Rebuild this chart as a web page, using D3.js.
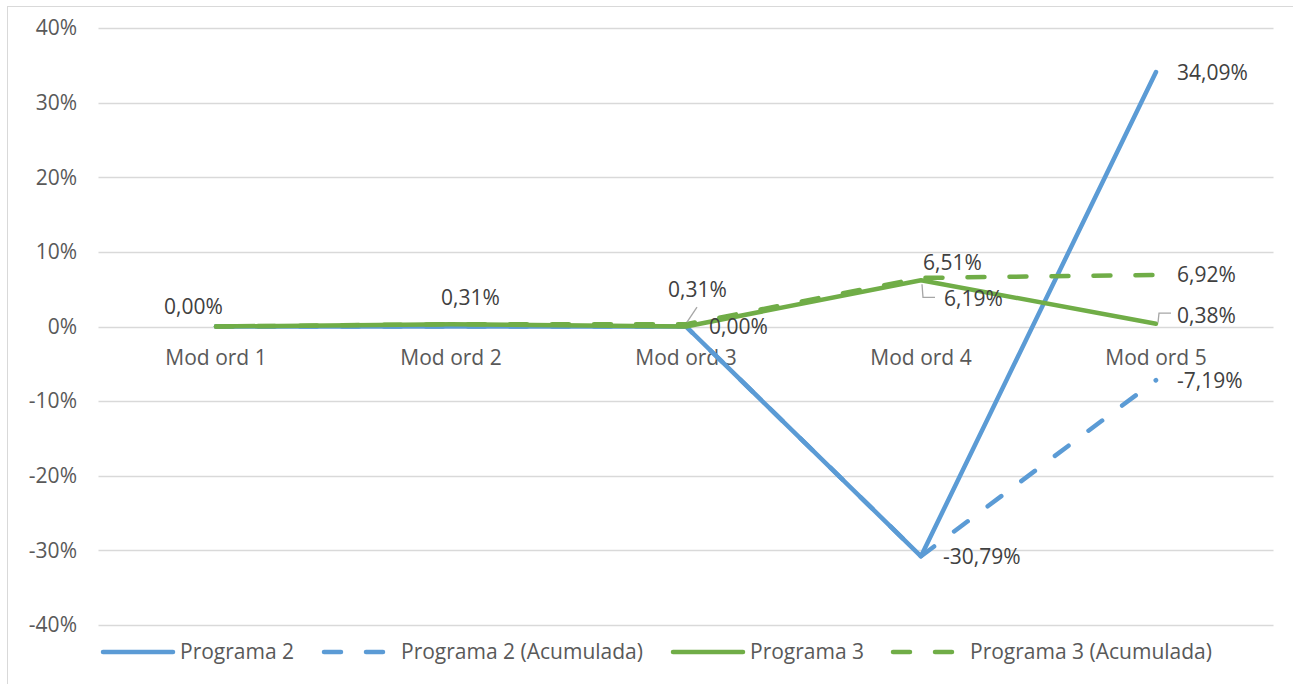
<!DOCTYPE html>
<html>
<head>
<meta charset="utf-8">
<script src="https://cdn.jsdelivr.net/npm/d3@7"></script>
<style>
  body { margin: 0; background: #fff; }
  svg { display: block; font-family: "Open Sans", sans-serif; }
</style>
</head>
<body>
<script>
// chart data
const categories = ['Mod ord 1', 'Mod ord 2', 'Mod ord 3', 'Mod ord 4', 'Mod ord 5'];
const programa2 = [0, 0, 0, -30.79, 34.09];
const programa2Acum = [0, 0, 0, -30.79, -7.19];
const programa3 = [0, 0.31, 0, 6.19, 0.38];
const programa3Acum = [0, 0.31, 0.31, 6.51, 6.92];
const yTicks = [40, 30, 20, 10, 0, -10, -20, -30, -40];

const series = [
  { name: 'Programa 2', values: programa2, color: '#5B9BD5', dashed: false },
  { name: 'Programa 2 (Acumulada)', values: programa2Acum, color: '#5B9BD5', dashed: true },
  { name: 'Programa 3', values: programa3, color: '#70AD47', dashed: false },
  { name: 'Programa 3 (Acumulada)', values: programa3Acum, color: '#70AD47', dashed: true }
];

// which data labels are shown and where (s = series index, i = category index)
const labelPlaces = [
  { s: 3, i: 0, dx: -52, dy: -20 },
  { s: 3, i: 1, dx: -10, dy: -27 },
  { s: 3, i: 2, dx: -18, dy: -35, leader: true },
  { s: 2, i: 2, dx: 23, dy: 0 },
  { s: 3, i: 3, dx: 2, dy: -15 },
  { s: 2, i: 3, dx: 23, dy: 18, leader: true },
  { s: 0, i: 3, dx: 22, dy: 0 },
  { s: 0, i: 4, dx: 21, dy: 1 },
  { s: 3, i: 4, dx: 21, dy: 0 },
  { s: 2, i: 4, dx: 21, dy: -8, leader: true },
  { s: 1, i: 4, dx: 21, dy: 0 }
];

const width = 1293;
const height = 684;
const fontSize = '21px';

const svg = d3.select('body').append('svg').attr('width', width).attr('height', height);

// chart border
svg.append('rect')
  .attr('x', 7.5).attr('y', 6.5)
  .attr('width', width + 20).attr('height', height + 20)
  .attr('fill', 'none').attr('stroke', '#d9d9d9');

const x = d3.scaleBand().domain(categories).range([98.5, 1273.5]);
const y = d3.scaleLinear().domain([-40, 40]).range([625, 28]);
const px = (i) => x(categories[i]) + x.bandwidth() / 2;

// gridlines
svg.append('g')
  .selectAll('line')
  .data(yTicks)
  .join('line')
  .attr('x1', 98.5).attr('x2', 1273.5)
  .attr('y1', (d) => Math.round(y(d)) + 0.5)
  .attr('y2', (d) => Math.round(y(d)) + 0.5)
  .attr('stroke', '#d9d9d9').attr('stroke-width', 1.3);

// y axis labels
svg.append('g')
  .selectAll('text')
  .data(yTicks)
  .join('text')
  .attr('x', 77)
  .attr('y', (d) => y(d))
  .attr('dy', '0.35em')
  .attr('text-anchor', 'end')
  .attr('fill', '#595959')
  .style('font-size', fontSize)
  .text((d) => d + '%');

// category labels (axis sits at zero)
svg.append('g')
  .selectAll('text')
  .data(categories)
  .join('text')
  .attr('x', (d) => x(d) + x.bandwidth() / 2)
  .attr('y', y(0) + 31)
  .attr('dy', '0.35em')
  .attr('text-anchor', 'middle')
  .attr('fill', '#595959')
  .style('font-size', fontSize)
  .text((d) => d);

// lines
const line = d3.line().x((d, i) => px(i)).y((d) => y(d));
const gLines = svg.append('g');
series.forEach((s) => {
  gLines.append('path')
    .attr('d', line(s.values))
    .attr('fill', 'none')
    .attr('stroke', s.color)
    .attr('stroke-width', 4.5)
    .attr('stroke-linecap', 'round')
    .attr('stroke-linejoin', 'round')
    .attr('stroke-dasharray', s.dashed ? '17,25' : null);
});

// data labels
const fmt = (v) => v.toFixed(2).replace('.', ',') + '%';
const gLabels = svg.append('g');
labelPlaces.forEach((lp) => {
  const v = series[lp.s].values[lp.i];
  const cx = px(lp.i);
  const cy = y(v);
  const tx = cx + lp.dx;
  const ty = cy + lp.dy;
  if (lp.leader) {
    let pts;
    if (lp.dy < -20) pts = [[cx + 1, cy - 2], [cx + 11, cy - 17]];
    else if (lp.dy > 10) pts = [[cx + 1, cy + 4], [cx + 2, ty - 1], [cx + 14, ty - 1]];
    else pts = [[cx + 2, cy - 1], [cx + 3, ty - 2.5], [cx + 15, ty - 2.5]];
    gLabels.append('path')
      .attr('d', d3.line()(pts))
      .attr('fill', 'none')
      .attr('stroke', '#a6a6a6')
      .attr('stroke-width', 1.3);
  }
  gLabels.append('text')
    .attr('x', tx)
    .attr('y', ty)
    .attr('dy', '0.35em')
    .attr('fill', '#404040')
    .style('font-size', fontSize)
    .text(fmt(v));
});

// legend
const legendItems = [
  { s: 0, x: 101 },
  { s: 1, x: 322 },
  { s: 2, x: 671 },
  { s: 3, x: 891 }
];
const gLegend = svg.append('g');
legendItems.forEach((li) => {
  const s = series[li.s];
  gLegend.append('line')
    .attr('x1', li.x + 2).attr('x2', li.x + 72)
    .attr('y1', 652).attr('y2', 652)
    .attr('stroke', s.color)
    .attr('stroke-width', 4.5)
    .attr('stroke-linecap', 'round')
    .attr('stroke-dasharray', s.dashed ? '17,25' : null);
  gLegend.append('text')
    .attr('x', li.x + 79)
    .attr('y', 652)
    .attr('dy', '0.35em')
    .attr('fill', '#595959')
    .style('font-size', fontSize)
    .text(s.name);
});
</script>
</body>
</html>
